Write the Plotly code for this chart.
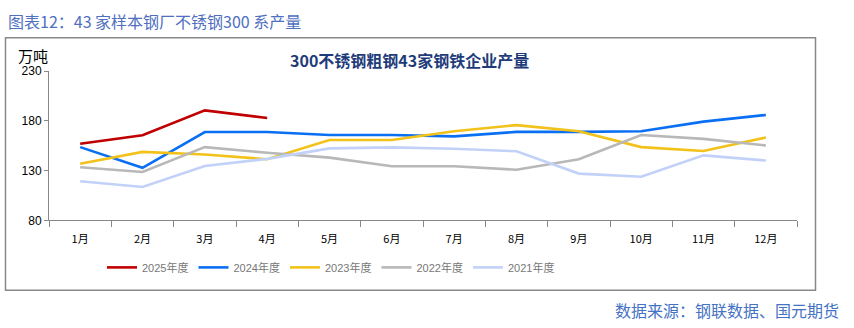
import plotly.graph_objects as go

months = ["1月", "2月", "3月", "4月", "5月", "6月", "7月", "8月", "9月", "10月", "11月", "12月"]
y2025 = [157, 165.6, 190.6, 182.9]
y2024 = [153.7, 132.9, 168.8, 168.8, 165.9, 165.9, 164.5, 169, 169, 169.7, 179.3, 186]
y2023 = [137, 148.9, 146.3, 141.5, 160.8, 160.8, 169.7, 175.8, 169.7, 153.7, 149.8, 163.3]
y2022 = [133.5, 128.7, 153.7, 148, 143.1, 134.4, 134.4, 131, 141.5, 165.9, 162, 155.3]
y2021 = [119.4, 113.7, 134.8, 141.9, 152.4, 153.4, 152.1, 149.5, 127.1, 123.9, 145.4, 140.2]

series = [
    ("2025年度", y2025, "#c00000"),
    ("2024年度", y2024, "#0a6ff2"),
    ("2023年度", y2023, "#f2c21a"),
    ("2022年度", y2022, "#b8b8b8"),
    ("2021年度", y2021, "#c2d1f7"),
]

W, H = 854, 328
fig = go.Figure()
for name, vals, col in series:
    fig.add_trace(go.Scatter(x=months[:len(vals)], y=vals, name=name, mode="lines",
                             line=dict(color=col, width=2.6)))

def px(x):
    return x / W

def py(y):
    return 1 - y / H

fig.update_layout(
    width=W, height=H,
    margin=dict(l=0, r=0, t=0, b=0),
    paper_bgcolor="white", plot_bgcolor="white",
    font=dict(family="Liberation Sans, Noto Sans CJK SC", size=12, color="#000"),
    xaxis=dict(domain=[px(49), px(797)], type="category", categoryarray=months,
               range=[-0.5, 11.5], tickson="boundaries",
               ticks="outside", ticklen=6, tickcolor="#888", showline=True,
               linecolor="#888", linewidth=1, showgrid=False, ticklabelstandoff=8,
               tickfont=dict(family="Noto Sans CJK SC", size=11, color="#000")),
    yaxis=dict(domain=[py(223), py(67)], range=[80, 230], tickvals=[80, 130, 180, 230],
               ticks="outside", ticklen=4, tickcolor="#888", showline=True,
               linecolor="#888", linewidth=1, showgrid=False, zeroline=False,
               tickfont=dict(family="Liberation Sans", size=12, color="#000")),
    showlegend=True,
    legend=dict(orientation="h", x=px(331), y=py(272), xanchor="center", yanchor="middle",
                font=dict(family="Liberation Sans Narrow, Liberation Sans, Noto Sans CJK SC",
                          size=11, color="#777"),
                itemwidth=30, tracegroupgap=0, bgcolor="rgba(0,0,0,0)"),
    shapes=[dict(type="rect", xref="paper", yref="paper", x0=px(5.5), x1=px(815.5),
                 y0=py(296), y1=py(32), line=dict(color="#888", width=1.5))],
    annotations=[
        dict(text="图表12：43 家样本钢厂不锈钢300 系产量", xref="paper", yref="paper",
             x=px(6), y=py(15), xanchor="left", yanchor="middle", showarrow=False,
             font=dict(family="Noto Sans CJK SC", size=16, color="#4f6fbf")),
        dict(text="<b>300不锈钢粗钢43家钢铁企业产量</b>", xref="paper", yref="paper",
             x=px(409), y=py(55), xanchor="center", yanchor="middle", showarrow=False,
             font=dict(family="Noto Sans CJK SC", size=16, color="#1f3c7a")),
        dict(text="万吨", xref="paper", yref="paper",
             x=px(16), y=py(51), xanchor="left", yanchor="middle", showarrow=False,
             font=dict(family="Noto Sans CJK SC", size=15, color="#000")),
        dict(text="数据来源：钢联数据、国元期货", xref="paper", yref="paper",
             x=px(841), y=py(317), xanchor="right", yanchor="middle", showarrow=False,
             font=dict(family="Noto Sans CJK SC", size=16, color="#4472c4")),
    ],
)

fig.write_html("out.html")
